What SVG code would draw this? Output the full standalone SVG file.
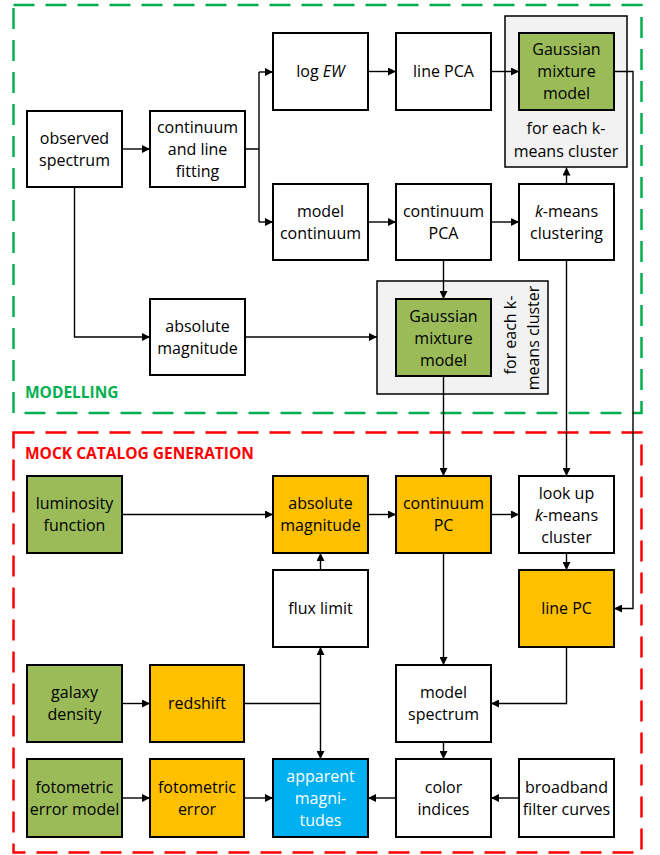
<svg xmlns="http://www.w3.org/2000/svg" width="660" height="855" viewBox="0 0 660 855">
<defs>
<marker id="arr" viewBox="0 0 8 8" refX="8" refY="4" markerWidth="8" markerHeight="8" markerUnits="userSpaceOnUse" orient="auto-start-reverse">
<path d="M0,0 L8,4 L0,8 z" fill="#000"/>
</marker>
<style>
.box{stroke:#000;stroke-width:2;fill:#fff}
.grn{fill:#9BBB59}
.org{fill:#FFC000}
.blu{fill:#00B0F0}
.gray{fill:#F2F2F2;stroke:#000;stroke-width:1.5}
.t{font-family:"Open Sans","Noto Sans","Liberation Sans",sans-serif;font-size:16px;fill:#000;text-anchor:middle}
.w{fill:#fff}
.c{fill:none;stroke:#000;stroke-width:1.4}
.a{marker-end:url(#arr)}
.frame{fill:none;stroke-width:2.5;stroke-dasharray:21 11}
.lbl{font-family:"Open Sans","Noto Sans","Liberation Sans",sans-serif;font-size:15.5px;font-weight:bold}
</style>
</defs>
<rect width="660" height="855" fill="#fff"/>

<g id="frames">
<rect class="frame" x="13.5" y="5" width="628" height="408" stroke="#00B050"/>
<text class="lbl" x="25" y="398" fill="#00B050">MODELLING</text>
<rect class="frame" x="13.5" y="432.5" width="628" height="420" stroke="#FF0000"/>
<text class="lbl" x="25" y="459" fill="#FF0000">MOCK CATALOG GENERATION</text>
</g>

<g id="observed-spectrum">
<rect class="box" x="27" y="111" width="95" height="76"/>
<text class="t" x="74.5" y="143.5">observed</text>
<text class="t" x="74.5" y="165.5">spectrum</text>
</g>
<g id="continuum-line-fitting">
<rect class="box" x="150" y="111" width="95" height="76"/>
<text class="t" x="197.5" y="132.5">continuum</text>
<text class="t" x="197.5" y="154.5">and line</text>
<text class="t" x="197.5" y="176.5">fitting</text>
</g>
<g id="log-ew">
<rect class="box" x="273" y="33" width="95" height="77"/>
<text class="t" x="320.5" y="77">log <tspan font-style="italic">EW</tspan></text>
</g>
<g id="line-pca">
<rect class="box" x="396" y="33" width="95" height="77"/>
<text class="t" x="443.5" y="77">line PCA</text>
</g>
<g id="gmm-line">
<rect class="gray" x="505" y="16" width="122" height="151"/>
<rect class="box grn" x="519" y="33" width="95" height="77"/>
<text class="t" x="566.5" y="55">Gaussian</text>
<text class="t" x="566.5" y="77">mixture</text>
<text class="t" x="566.5" y="99">model</text>
<text class="t" x="566" y="133.5">for each k-</text>
<text class="t" x="566" y="156.5">means cluster</text>
</g>
<g id="model-continuum">
<rect class="box" x="273" y="184" width="95" height="76"/>
<text class="t" x="320.5" y="216.5">model</text>
<text class="t" x="320.5" y="238.5">continuum</text>
</g>
<g id="continuum-pca">
<rect class="box" x="396" y="184" width="95" height="76"/>
<text class="t" x="443.5" y="216.5">continuum</text>
<text class="t" x="443.5" y="238.5">PCA</text>
</g>
<g id="kmeans-clustering">
<rect class="box" x="519" y="184" width="95" height="76"/>
<text class="t" x="566.5" y="216.5"><tspan font-style="italic">k</tspan>-means</text>
<text class="t" x="566.5" y="238.5">clustering</text>
</g>
<g id="absolute-magnitude-model">
<rect class="box" x="150" y="299" width="95" height="76"/>
<text class="t" x="197.5" y="331.5">absolute</text>
<text class="t" x="197.5" y="353.5">magnitude</text>
</g>
<g id="gmm-continuum">
<rect class="gray" x="377" y="281" width="171" height="113"/>
<rect class="box grn" x="396" y="299" width="95" height="77"/>
<text class="t" x="443.5" y="321.5">Gaussian</text>
<text class="t" x="443.5" y="343.5">mixture</text>
<text class="t" x="443.5" y="365.5">model</text>
<text class="t" transform="translate(510,335) rotate(-90)" x="0" y="5.5">for each k-</text>
<text class="t" transform="translate(533,338) rotate(-90)" x="0" y="5.5">means cluster</text>
</g>

<g id="luminosity-function">
<rect class="box grn" x="27" y="476" width="95" height="77"/>
<text class="t" x="74.5" y="509">luminosity</text>
<text class="t" x="74.5" y="531">function</text>
</g>
<g id="absolute-magnitude">
<rect class="box org" x="273" y="476" width="95" height="77"/>
<text class="t" x="320.5" y="509">absolute</text>
<text class="t" x="320.5" y="531">magnitude</text>
</g>
<g id="continuum-pc">
<rect class="box org" x="396" y="476" width="95" height="77"/>
<text class="t" x="443.5" y="509">continuum</text>
<text class="t" x="443.5" y="531">PC</text>
</g>
<g id="look-up-cluster">
<rect class="box" x="519" y="476" width="95" height="77"/>
<text class="t" x="566.5" y="498.5">look up</text>
<text class="t" x="566.5" y="520.5"><tspan font-style="italic">k</tspan>-means</text>
<text class="t" x="566.5" y="542.5">cluster</text>
</g>
<g id="flux-limit">
<rect class="box" x="273" y="570" width="95" height="77"/>
<text class="t" x="320.5" y="614">flux limit</text>
</g>
<g id="line-pc">
<rect class="box org" x="519" y="570" width="95" height="77"/>
<text class="t" x="566.5" y="614">line PC</text>
</g>
<g id="galaxy-density">
<rect class="box grn" x="27" y="665" width="95" height="77"/>
<text class="t" x="74.5" y="698">galaxy</text>
<text class="t" x="74.5" y="720">density</text>
</g>
<g id="redshift">
<rect class="box org" x="150" y="665" width="94" height="77"/>
<text class="t" x="197" y="709">redshift</text>
</g>
<g id="model-spectrum">
<rect class="box" x="396" y="665" width="95" height="77"/>
<text class="t" x="443.5" y="698">model</text>
<text class="t" x="443.5" y="720">spectrum</text>
</g>
<g id="fotometric-error-model">
<rect class="box grn" x="27" y="759" width="95" height="78"/>
<text class="t" x="74.5" y="792.5">fotometric</text>
<text class="t" x="74.5" y="814.5">error model</text>
</g>
<g id="fotometric-error">
<rect class="box org" x="150" y="759" width="94" height="78"/>
<text class="t" x="197" y="792.5">fotometric</text>
<text class="t" x="197" y="814.5">error</text>
</g>
<g id="apparent-magnitudes">
<rect class="box blu" x="273" y="759" width="95" height="78"/>
<text class="t w" x="320.5" y="781.5">apparent</text>
<text class="t w" x="320.5" y="803.5">magni-</text>
<text class="t w" x="320.5" y="825.5">tudes</text>
</g>
<g id="color-indices">
<rect class="box" x="396" y="759" width="95" height="78"/>
<text class="t" x="443.5" y="792.5">color</text>
<text class="t" x="443.5" y="814.5">indices</text>
</g>
<g id="broadband-filter-curves">
<rect class="box" x="519" y="759" width="95" height="78"/>
<text class="t" x="566.5" y="792.5">broadband</text>
<text class="t" x="566.5" y="814.5">filter curves</text>
</g>

<g id="connectors">
<path class="c a" d="M123,149 H150"/>
<path class="c" d="M246,149 H259 M259,72 V222"/>
<path class="c a" d="M259,72 H273"/>
<path class="c a" d="M259,222 H273"/>
<path class="c a" d="M369,71.5 H396"/>
<path class="c a" d="M492,71.5 H519"/>
<path class="c a" d="M369,222 H396"/>
<path class="c a" d="M492,222 H519"/>
<path class="c a" d="M566.5,183 V167.5"/>
<path class="c a" d="M74.5,188 V337 H150"/>
<path class="c a" d="M246,337 H377"/>
<path class="c a" d="M443.5,261 V299"/>
<path class="c a" d="M443.5,377 V476"/>
<path class="c a" d="M566.5,261 V476"/>
<path class="c a" d="M615,71.5 H633 V608.5 H614"/>
<path class="c a" d="M123,514.5 H273"/>
<path class="c a" d="M369,514.5 H396"/>
<path class="c a" d="M492,514.5 H519"/>
<path class="c a" d="M566.5,554 V570"/>
<path class="c a" d="M320.5,569 V553"/>
<path class="c a" d="M443.5,554 V665"/>
<path class="c a" d="M566.5,648 V703.5 H491"/>
<path class="c a" d="M443.5,743 V759"/>
<path class="c a" d="M518,798 H491"/>
<path class="c a" d="M395,798 H368"/>
<path class="c a" d="M123,703.5 H150"/>
<path class="c" d="M245,703.5 H320.5"/>
<path class="c a" d="M320.5,647 V759" marker-start="url(#arr)"/>
<path class="c a" d="M123,798 H150"/>
<path class="c a" d="M245,798 H273"/>
</g>
</svg>
